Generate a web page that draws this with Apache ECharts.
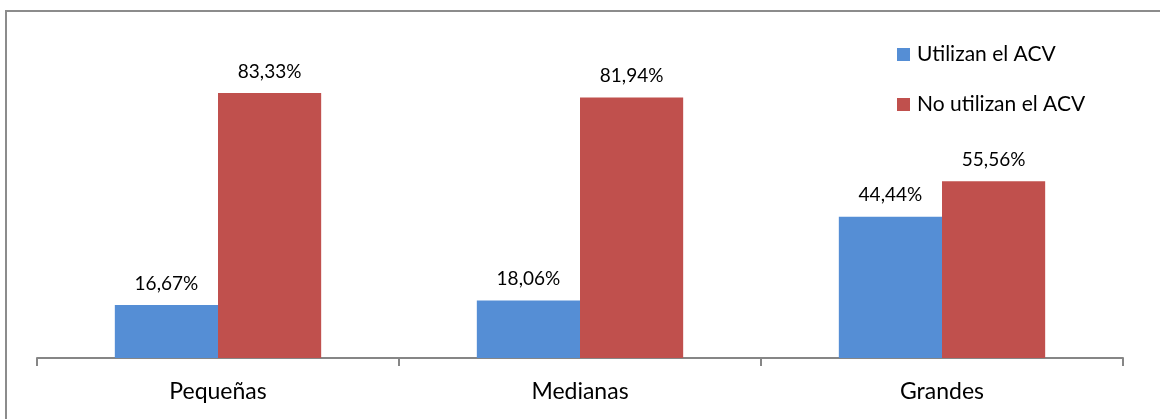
<!DOCTYPE html>
<html>
<head>
<meta charset="utf-8">
<script src="https://cdn.jsdelivr.net/npm/echarts@6/dist/echarts.min.js"></script>
<style>
html,body{margin:0;padding:0;background:#fff;}
#chart{width:1160px;height:419px;}
</style>
</head>
<body>
<div id="chart"></div>
<script>
// Company size categories and share of firms using / not using LCA (ACV)
const categories = ['Pequeñas', 'Medianas', 'Grandes'];
const seriesNames = ['Utilizan el ACV', 'No utilizan el ACV'];
const utilizan = [16.67, 18.06, 44.44];
const noUtilizan = [83.33, 81.94, 55.56];

const fontFamily = 'Lato, "Open Sans", "DejaVu Sans", sans-serif';
const fmt = p => p.value.toFixed(2).replace('.', ',') + '%';

const chart = echarts.init(document.getElementById('chart'), null, {renderer: 'canvas'});
chart.setOption({
  animation: false,
  backgroundColor: '#fff',
  graphic: [{
    type: 'rect',
    shape: {x: 6, y: 11, width: 1300, height: 600},
    style: {fill: 'none', stroke: '#8c8c8c', lineWidth: 2},
    silent: true
  }],
  legend: {
    orient: 'vertical',
    left: 892,
    top: 39,
    itemWidth: 13,
    itemHeight: 13,
    itemGap: 29,
    icon: 'rect',
    textStyle: {fontFamily, fontSize: 21, color: '#000', padding: [0, 0, 0, 2]},
    data: seriesNames
  },
  grid: {left: 37, right: 37, top: 40, bottom: 61},
  xAxis: {
    type: 'category',
    data: categories,
    axisLine: {lineStyle: {color: '#868686', width: 2}},
    axisTick: {show: true, length: 8, lineStyle: {color: '#868686', width: 2}},
    axisLabel: {fontFamily, fontSize: 23, color: '#000', margin: 22}
  },
  yAxis: {
    type: 'value',
    min: 0,
    max: 100,
    show: false,
    splitLine: {show: false}
  },
  series: [
    {
      name: seriesNames[0],
      type: 'bar',
      data: utilizan,
      barGap: '0%',
      barCategoryGap: '43%',
      itemStyle: {color: '#558ed5'},
      label: {show: true, position: 'top', distance: 12, formatter: fmt,
              fontFamily, fontSize: 19, color: '#000'}
    },
    {
      name: seriesNames[1],
      type: 'bar',
      data: noUtilizan,
      barGap: '0%',
      barCategoryGap: '43%',
      itemStyle: {color: '#c0504d'},
      label: {show: true, position: 'top', distance: 12, formatter: fmt,
              fontFamily, fontSize: 19, color: '#000'}
    }
  ]
});
</script>
</body>
</html>
